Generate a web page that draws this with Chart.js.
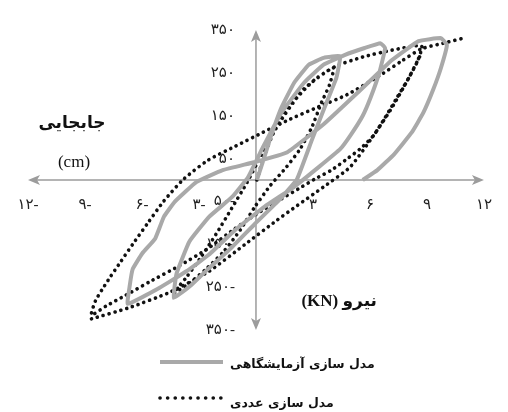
<!DOCTYPE html>
<html>
<head>
<meta charset="utf-8">
<script src="https://cdn.jsdelivr.net/npm/chart.js@4.4.1/dist/chart.umd.min.js"></script>
<style>
  html, body { margin: 0; padding: 0; background: #fff; }
  #wrap { width: 508px; height: 412px; }
</style>
</head>
<body>
<div id="wrap"><canvas id="chart" width="508" height="412"></canvas></div>
<script>
'use strict';

// tick values (displacement cm / force kN)
const xTicks = [-12, -9, -6, -3, 3, 6, 9, 12];
const yTicks = [-350, -250, -150, -50, 50, 150, 250, 350];

// experimental (laboratory) hysteresis path
const expX = [0.05, 0.36, 0.77, 1.34, 2.01, 2.78, 3.56, 4.43,
  4.23, 3.61, 2.94, 2.16, 1.24, -0.05, -1.34, -2.53, -3.40, -4.33,
  -4.18, -3.51, -2.47, -1.24, -0.41, 0.36, 1.34, 2.53, 3.56, 4.69, 5.72, 6.55, 6.80,
  6.49, 6.03, 5.62, 5.00, 4.43, 3.30, 2.01, 0.46, -1.08, -2.47, -3.66, -5.21, -6.75,
  -6.65, -6.49, -5.98, -5.31, -4.85, -4.28, -3.14, -1.75, -0.05, 1.65, 3.56, 5.36, 7.16, 8.56, 9.74, 10.05,
  9.74, 9.33, 8.81, 8.20, 7.27, 6.39, 5.62];
const expY = [0, 42, 100, 169, 227, 269, 285, 289,
  238, 169, 93, 2, -46, -102, -160, -208, -245, -275,
  -218, -144, -86, -39, 7, 76, 157, 227, 269, 292, 308, 319, 308,
  250, 192, 150, 106, 72, 30, -16, -62, -116, -174, -213, -255, -289,
  -248, -208, -171, -137, -86, -51, -5, 23, 42, 65, 130, 204, 280, 324, 331, 315,
  262, 211, 157, 111, 60, 23, 0];

// numerical model, main path
const numX = [0.05, 0.36, 0.82, 1.49, 2.53, 4.07,
  3.87, 3.45, 2.94, 2.32, 1.60, 0.77, -0.05, -0.82, -1.70, -2.63, -3.51, -4.33,
  -3.66, -2.94, -2.11, -1.29, -0.46, 0.36, 1.24, 2.16, 3.14, 4.23, 5.62, 7.16, 8.71,
  8.51, 8.04, 7.42, 6.80, 6.19, 5.52, 4.79, 3.97, 3.09, 2.22, 1.34, 0.05, -1.19, -2.53, -4.07, -5.62, -6.86, -7.89, -8.66,
  -8.45, -8.09, -7.68, -7.11, -6.49, -5.72, -4.85, -3.81, -2.53, -1.08, 0.36, 1.75, 3.09, 4.79, 6.49, 7.68, 8.71, 9.85, 10.93];
const numY = [0, 46, 100, 157, 213, 262,
  222, 181, 123, 72, 30, -12, -62, -116, -167, -208, -241, -264,
  -227, -183, -127, -67, -5, 65, 134, 192, 236, 266, 287, 303, 313,
  278, 238, 192, 146, 104, 74, 49, 23, 2, -21, -44, -79, -116, -160, -201, -238, -269, -294, -315,
  -282, -255, -227, -190, -150, -102, -49, 2, 46, 79, 111, 141, 167, 199, 243, 278, 306, 319, 331];

// numerical model, second reload branch
const num2X = [-8.66, -6.75, -4.54, -2.47, -0.57, 1.13, 2.16, 3.56, 4.95, 6.13, 7.16, 8.04, 8.71];
const num2Y = [-324, -299, -262, -213, -150, -93, -60, -16, 30, 100, 169, 238, 296];

const pts = (xs, ys) => xs.map((v, i) => ({ x: v, y: ys[i] }));

const toFa = (v) => {
  const s = String(Math.abs(v)).replace(/\d/g, d => '۰۱۲۳۴۵۶۷۸۹'[d]);
  return v < 0 ? s + '-' : s;
};

const GRAY = '#a9a9a9';
const AXIS = '#9c9c9c';

const drawArrow = (ctx, tx, ty, dx, dy) => {
  const nx = -dy, ny = dx;
  ctx.beginPath();
  ctx.moveTo(tx, ty);
  ctx.lineTo(tx - dx * 12 + nx * 5, ty - dy * 12 + ny * 5);
  ctx.lineTo(tx - dx * 9, ty - dy * 9);
  ctx.lineTo(tx - dx * 12 - nx * 5, ty - dy * 12 - ny * 5);
  ctx.closePath();
  ctx.fill();
};

// axes through the origin with arrow heads
const axesPlugin = {
  id: 'axesPlugin',
  beforeDatasetsDraw(chart) {
    const { ctx, chartArea: a, scales: { x, y } } = chart;
    const ox = x.getPixelForValue(0);
    const oy = y.getPixelForValue(0);
    ctx.save();
    ctx.strokeStyle = AXIS;
    ctx.fillStyle = AXIS;
    ctx.lineWidth = 1.5;
    ctx.beginPath();
    ctx.moveTo(a.left + 4, oy); ctx.lineTo(a.right - 4, oy);
    ctx.moveTo(ox, a.top + 4); ctx.lineTo(ox, a.bottom - 4);
    ctx.stroke();
    drawArrow(ctx, a.left, oy, -1, 0);
    drawArrow(ctx, a.right, oy, 1, 0);
    drawArrow(ctx, ox, a.top, 0, -1);
    drawArrow(ctx, ox, a.bottom, 0, 1);
    ctx.restore();
  }
};

// axis titles and legend
const textPlugin = {
  id: 'textPlugin',
  afterDraw(chart) {
    const { ctx } = chart;
    ctx.save();
    ctx.fillStyle = '#111';
    ctx.textBaseline = 'middle';

    ctx.direction = 'rtl';
    ctx.textAlign = 'center';
    ctx.font = "bold 17px 'DejaVu Serif', 'DejaVu Sans', serif";
    ctx.fillText('جابجایی', 72, 124);

    ctx.direction = 'ltr';
    ctx.font = "17px 'Liberation Serif', serif";
    ctx.fillText('(cm)', 74, 163);

    ctx.direction = 'rtl';
    ctx.textAlign = 'right';
    ctx.font = "bold 17px 'Liberation Serif', 'DejaVu Sans', serif";
    ctx.fillText('نیرو (KN)', 377, 302);

    // legend samples
    ctx.lineWidth = 4;
    ctx.strokeStyle = GRAY;
    ctx.beginPath(); ctx.moveTo(160, 362); ctx.lineTo(223, 362); ctx.stroke();
    ctx.strokeStyle = '#111';
    ctx.lineWidth = 3.6;
    ctx.lineCap = 'round';
    ctx.setLineDash([0.1, 7.5]);
    ctx.beginPath(); ctx.moveTo(160, 398); ctx.lineTo(222, 398); ctx.stroke();
    ctx.setLineDash([]);

    ctx.direction = 'rtl';
    ctx.textAlign = 'left';
    ctx.font = "bold 12.5px 'DejaVu Sans', sans-serif";
    ctx.fillText('مدل سازی آزمایشگاهی', 230, 365);
    ctx.fillText('مدل سازی عددی', 230, 404);
    ctx.restore();
  }
};

new Chart(document.getElementById('chart'), {
  type: 'scatter',
  data: {
    datasets: [{
      label: 'مدل سازی آزمایشگاهی',
      data: pts(expX, expY),
      showLine: true,
      borderColor: GRAY,
      borderWidth: 4,
      pointRadius: 0,
      tension: 0.1
    }, {
      label: 'مدل سازی عددی',
      data: pts(numX, numY),
      showLine: true,
      borderColor: '#111',
      borderWidth: 3.6,
      borderDash: [0.1, 6],
      borderCapStyle: 'round',
      pointRadius: 0,
      tension: 0.2
    }, {
      label: 'مدل سازی عددی ۲',
      data: pts(num2X, num2Y),
      showLine: true,
      borderColor: '#111',
      borderWidth: 3.6,
      borderDash: [0.1, 6],
      borderCapStyle: 'round',
      pointRadius: 0,
      tension: 0.2
    }]
  },
  options: {
    responsive: false,
    devicePixelRatio: 1,
    animation: false,
    layout: { padding: { left: 28, right: 14, top: 27, bottom: 82 } },
    plugins: { legend: { display: false }, tooltip: { enabled: false } },
    scales: {
      x: {
        type: 'linear',
        min: -12,
        max: 12,
        position: 'center',
        afterBuildTicks: (s) => { s.ticks = xTicks.map(v => ({ value: v })); },
        grid: { drawOnChartArea: false, drawTicks: false },
        border: { display: false },
        ticks: {
          padding: 16,
          autoSkip: false,
          maxRotation: 0,
          color: '#222',
          font: { family: "'Liberation Serif', 'DejaVu Sans', serif", size: 15 },
          callback: (v) => toFa(v)
        }
      },
      y: {
        type: 'linear',
        min: -350,
        max: 350,
        position: 'center',
        afterBuildTicks: (s) => { s.ticks = yTicks.map(v => ({ value: v })); },
        grid: { drawOnChartArea: false, drawTicks: false },
        border: { display: false },
        ticks: {
          padding: 21,
          autoSkip: false,
          color: '#222',
          font: { family: "'Liberation Serif', 'DejaVu Sans', serif", size: 15 },
          callback: (v) => toFa(v)
        }
      }
    }
  },
  plugins: [axesPlugin, textPlugin]
});
</script>
</body>
</html>
